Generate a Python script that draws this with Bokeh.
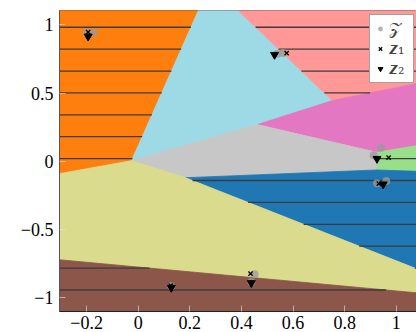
import numpy as np
from bokeh.plotting import figure
from bokeh.models import Range1d, FixedTicker, Legend, LegendItem
from bokeh.embed import file_html
from bokeh.resources import INLINE

# axis limits
XL, XR = -0.305, 1.078
YB, YT = -1.1, 1.105

# region vertices (data coordinates)
C = (-0.026, 0.005)
A = (0.233, YT)
B = (0.387, YT)
D = (0.752, 0.445)
E = (XR, 0.570)
F = (0.461, 0.269)
G = (0.925, 0.066)
H = (XR, 0.115)
I = (0.925, -0.063)
J = (XR, -0.073)
K = (0.183, -0.120)
L = (XR, -0.787)
M = (XR, -0.963)
N = (XL, -0.721)
O = (XL, -0.090)

regions = [
    ("orange",  [(XL, YT), A, C, O],          "#ff7f0e", True),
    ("cyan",    [A, B, D, F, C],              "#9edae5", False),
    ("pink",    [B, (XR, YT), E, D],          "#ff9896", True),
    ("magenta", [D, E, H, G, F],              "#e377c2", False),
    ("gray",    [C, F, G, I, K],              "#c7c7c7", False),
    ("green",   [G, H, J, I],                 "#98df8a", True),
    ("blue",    [K, I, J, L],                 "#1f77b4", True),
    ("yellow",  [O, C, K, L, M, N],           "#dbdb8d", False),
    ("brown",   [N, M, (XR, YB), (XL, YB)],   "#8c564b", True),
]

# data points
Z_x = [-0.200, -0.172, 0.540, 0.561, 0.941, 0.912, 0.961, 0.925, 0.451, 0.438, 0.128]
Z_y = [0.944, 0.944, 0.788, 0.793, 0.100, 0.044, -0.144, -0.161, -0.827, -0.884, -0.915]
z1_x = [-0.194, 0.575, 0.970, 0.932, 0.435, 0.126]
z1_y = [0.947, 0.793, 0.027, -0.163, -0.822, -0.910]
z2_x = [-0.194, 0.528, 0.925, 0.949, 0.438, 0.128]
z2_y = [0.915, 0.781, 0.019, -0.168, -0.891, -0.925]

x_ticks = [-0.2, 0, 0.2, 0.4, 0.6, 0.8, 1]
x_labels = ["\u22120.2", "0", "0.2", "0.4", "0.6", "0.8", "1"]
y_ticks = [-1, -0.5, 0, 0.5, 1]
y_labels = ["\u22121", "\u22120.5", "0", "0.5", "1"]

hatch_step = 0.1604
hatch_ys = [0.02 + hatch_step * k for k in range(-6, 7)]

p = figure(width=416, height=332, output_backend="svg", toolbar_location=None,
           x_range=Range1d(XL, XR), y_range=Range1d(YB, YT),
           min_border_left=59, min_border_right=0, min_border_top=10, min_border_bottom=21)
p.xgrid.visible = False
p.ygrid.visible = False
p.outline_line_color = "#666666"
p.background_fill_color = "white"

p.patches(xs=[[v[0] for v in r[1]] for r in regions],
          ys=[[v[1] for v in r[1]] for r in regions],
          fill_color=[r[2] for r in regions], line_color=[r[2] for r in regions],
          line_width=0.8)

def hspan(verts, y):
    pts = []
    n = len(verts)
    for i in range(n):
        x1, y1 = verts[i]
        x2, y2 = verts[(i + 1) % n]
        if y1 != y2 and (y1 - y) * (y2 - y) <= 0:
            t = (y - y1) / (y2 - y1)
            pts.append(x1 + t * (x2 - x1))
    if len(pts) >= 2:
        return min(pts), max(pts)
    return None

sx0, sx1, sy = [], [], []
for name, verts, col, hatched in regions:
    if not hatched:
        continue
    for y in hatch_ys:
        s = hspan(verts, y)
        if s and s[1] - s[0] > 1e-3:
            sx0.append(s[0]); sx1.append(s[1]); sy.append(y)
p.segment(x0=sx0, y0=sy, x1=sx1, y1=sy, line_color="#3c3c3c", line_width=1.3)

rZ = p.scatter(Z_x, Z_y, marker="circle", size=8, fill_color="#9a9a9a", fill_alpha=0.75, line_color=None)
r1 = p.scatter(z1_x, z1_y, marker="x", size=6, line_color="black", line_width=1.3)
r2 = p.scatter(z2_x, z2_y, marker="inverted_triangle", size=8, fill_color="black", line_color="black")

for ax in (p.xaxis[0], p.yaxis[0]):
    ax.major_tick_in = 6
    ax.major_tick_out = 0
    ax.minor_tick_line_color = None
    ax.major_tick_line_color = "#e6e6e6"
    ax.major_tick_line_alpha = 0.6
    ax.axis_line_color = "#555555"
    ax.major_label_text_font = "Liberation Serif"
    ax.major_label_text_font_size = "18px"
    ax.major_label_text_color = "black"
p.xaxis[0].ticker = FixedTicker(ticks=x_ticks)
p.xaxis[0].major_label_overrides = {t: l for t, l in zip(x_ticks, x_labels)}
p.yaxis[0].ticker = FixedTicker(ticks=y_ticks)
p.yaxis[0].major_label_overrides = {t: l for t, l in zip(y_ticks, y_labels)}
p.xaxis[0].major_label_standoff = 4
p.yaxis[0].major_label_standoff = 6
p.xaxis[0].axis_line_color = "#222222"

legend = Legend(items=[LegendItem(label="\U0001D4B5", renderers=[rZ]),
                       LegendItem(label="\U0001D49B\u2081", renderers=[r1]),
                       LegendItem(label="\U0001D49B\u2082", renderers=[r2])],
                location=(310, 228), margin=0, padding=4, spacing=1,
                glyph_width=12, glyph_height=19, label_standoff=3,
                label_text_font="DejaVu Serif", label_text_font_size="16px",
                label_height=19,
                border_line_color="#444444", border_line_width=1,
                background_fill_color="white", background_fill_alpha=1)
p.add_layout(legend)

open("out.html", "w").write(file_html(p, INLINE))
